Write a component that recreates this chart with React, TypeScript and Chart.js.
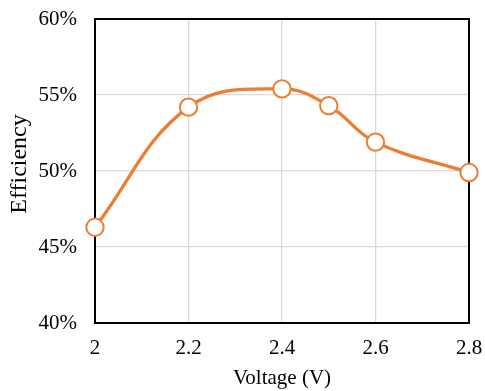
import React, { useEffect, useRef } from "react";
import { Chart, registerables } from "chart.js";

Chart.register(...registerables);

const voltages = [2, 2.2, 2.4, 2.5, 2.6, 2.8];
const efficiency = [46.3, 54.2, 55.4, 54.3, 51.9, 49.9];
const xTicks = [2, 2.2, 2.4, 2.6, 2.8];
const yMin = 40;
const yMax = 60;
const yStep = 5;
const xTitle = "Voltage (V)";
const yTitle = "Efficiency";

const FONT = '"Liberation Serif", "Times New Roman", serif';
const ORANGE = "#ED7D31";

const framePlugin = {
  id: "frame",
  beforeDatasetsDraw(chart: any) {
    const { ctx, chartArea } = chart;
    ctx.save();
    ctx.strokeStyle = "#000";
    ctx.lineWidth = 2;
    ctx.strokeRect(chartArea.left, chartArea.top, chartArea.right - chartArea.left, chartArea.bottom - chartArea.top);
    ctx.restore();
  },
  afterDraw(chart: any) {
    const { ctx } = chart;
    ctx.save();
    ctx.translate(20, 164);
    ctx.rotate(-Math.PI / 2);
    ctx.fillStyle = "#000";
    ctx.font = `24px ${FONT}`;
    ctx.textAlign = "center";
    ctx.textBaseline = "middle";
    ctx.fillText(yTitle, 0, 0);
    ctx.restore();
  },
};

export default function App() {
  const ref = useRef<HTMLCanvasElement>(null);
  useEffect(() => {
    if (!ref.current) return;
    const chart = new Chart(ref.current, {
      type: "line",
      data: {
        datasets: [
          {
            data: voltages.map((v, i) => ({ x: v, y: efficiency[i] })),
            borderColor: ORANGE,
            borderWidth: 3.3,
            tension: 0.4,
            pointRadius: 8.7,
            pointBorderWidth: 2,
            pointBackgroundColor: "#fff",
            pointBorderColor: ORANGE,
            clip: false as any,
          },
        ],
      },
      plugins: [framePlugin],
      options: {
        animation: false,
        responsive: false,
        maintainAspectRatio: false,
        layout: { padding: { left: 0, top: 19, right: 16, bottom: 0 } },
        plugins: { legend: { display: false }, tooltip: { enabled: false } },
        scales: {
          x: {
            type: "linear",
            min: 2,
            max: 2.8,
            afterBuildTicks: (axis: any) => {
              axis.ticks = xTicks.map((v) => ({ value: v }));
            },
            afterFit: (axis: any) => {
              axis.height = 68;
              axis.paddingLeft = 0;
              axis.paddingRight = 0;
            },
            grid: { color: "#d9d9d9", lineWidth: 1.3, drawTicks: false },
            border: { display: false },
            ticks: {
              padding: 13,
              color: "#000",
              font: { family: FONT, size: 21 },
              callback: (v: any) => String(v),
            },
            title: {
              display: true,
              text: xTitle,
              color: "#000",
              font: { family: FONT, size: 21 },
              padding: { top: 0, bottom: 0 },
            },
          },
          y: {
            min: yMin,
            max: yMax,
            afterFit: (axis: any) => {
              axis.width = 95;
              axis.paddingTop = 0;
              axis.paddingBottom = 0;
            },
            grid: { color: "#d9d9d9", lineWidth: 1.3, drawTicks: false },
            border: { display: false },
            ticks: {
              stepSize: yStep,
              padding: 18,
              color: "#000",
              font: { family: FONT, size: 21 },
              callback: (v: any) => v + "%",
            },
            title: { display: false },
          },
        },
      },
    });
    return () => chart.destroy();
  }, []);
  return (
    <div style={{ position: "fixed", left: 0, top: 0, width: 485, height: 391, background: "#fff" }}>
      <canvas ref={ref} width={485} height={391} style={{ width: 485, height: 391, display: "block" }} />
    </div>
  );
}
